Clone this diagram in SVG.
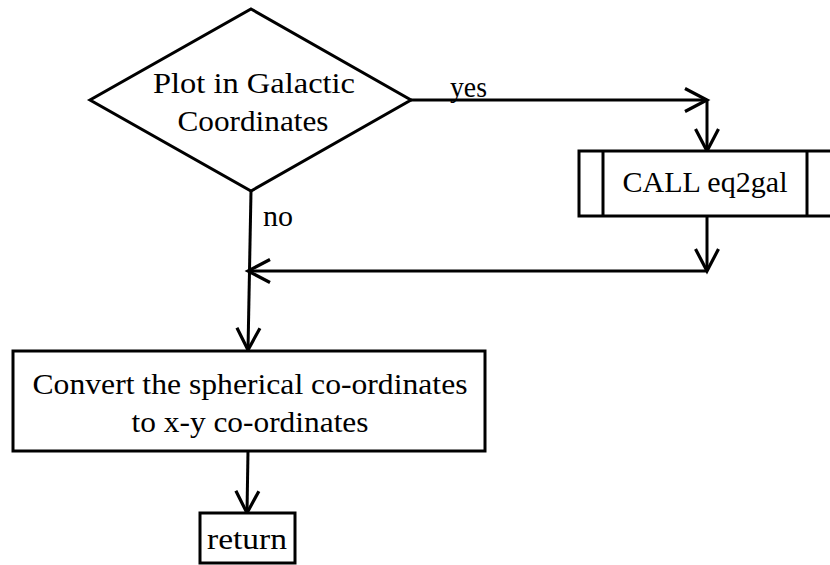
<svg xmlns="http://www.w3.org/2000/svg" width="830" height="565" viewBox="0 0 830 565">
  <style>
    .shape { fill: #fff; stroke: #000; stroke-width: 3; }
    .edge { fill: none; stroke: #000; stroke-width: 3; }
    text { font-family: "Liberation Serif", "DejaVu Serif", serif; font-size: 29px; fill: #000; }
    .c { text-anchor: middle; }
  </style>
  <defs>
    <marker id="arrow" markerUnits="userSpaceOnUse" markerWidth="32" markerHeight="32" viewBox="-26 -16 30 32" refX="0" refY="0" orient="auto">
      <path d="M-22,-11.5 L0,0 L-22,11.5" fill="none" stroke="#000" stroke-width="3.2"/>
    </marker>
  </defs>

  <g id="connectors">
    <path class="edge" d="M411,100 L707,100" marker-end="url(#arrow)"/>
    <path class="edge" d="M707,100 L707,151" marker-end="url(#arrow)"/>
    <path class="edge" d="M707,216 L707,271" marker-end="url(#arrow)"/>
    <path class="edge" d="M707,271 L248,271" marker-end="url(#arrow)"/>
    <path class="edge" d="M251,191 L248,350" marker-end="url(#arrow)"/>
    <path class="edge" d="M248,451 L247,513" marker-end="url(#arrow)"/>
    <text x="450" y="97" textLength="37" lengthAdjust="spacingAndGlyphs">yes</text>
    <text x="263" y="226" textLength="30" lengthAdjust="spacingAndGlyphs">no</text>
  </g>

  <g id="decision">
    <polygon class="shape" points="251,9 411,100 251,191 90,100"/>
    <text class="c" x="254" y="93" textLength="202" lengthAdjust="spacingAndGlyphs">Plot in Galactic</text>
    <text class="c" x="253" y="131" textLength="151" lengthAdjust="spacingAndGlyphs">Coordinates</text>
  </g>

  <g id="call-eq2gal">
    <rect class="shape" x="579" y="151" width="260" height="65"/>
    <line class="edge" x1="603" y1="151" x2="603" y2="216"/>
    <line class="edge" x1="807" y1="151" x2="807" y2="216"/>
    <text class="c" x="705" y="192" textLength="165" lengthAdjust="spacingAndGlyphs">CALL eq2gal</text>
  </g>

  <g id="convert">
    <rect class="shape" x="13" y="351" width="472" height="100"/>
    <text class="c" x="250" y="394" textLength="435" lengthAdjust="spacingAndGlyphs">Convert the spherical co-ordinates</text>
    <text class="c" x="250" y="432" textLength="237" lengthAdjust="spacingAndGlyphs">to x-y co-ordinates</text>
  </g>

  <g id="return">
    <rect class="shape" x="200" y="513" width="95" height="50"/>
    <text class="c" x="247" y="549" textLength="80" lengthAdjust="spacingAndGlyphs">return</text>
  </g>
</svg>
